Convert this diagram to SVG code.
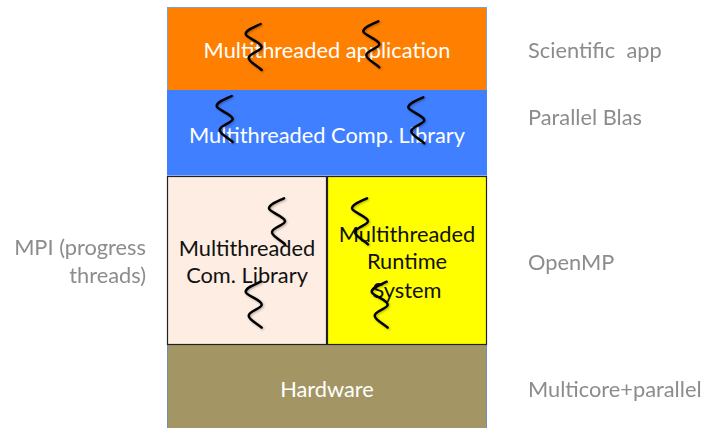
<svg xmlns="http://www.w3.org/2000/svg" width="703" height="428" viewBox="0 0 703 428">
<style>
text{font-family:"Lato","Open Sans","Liberation Sans",sans-serif;font-size:21.800px;white-space:pre}
.c{text-anchor:middle}
.w{fill:#fff}
.k{fill:#111}
.g{fill:#8c8c8c}
.th{fill:none;stroke:#000;stroke-width:2.500;stroke-linecap:round;stroke-linejoin:round}
</style>
<defs>
<filter id="sh" x="-40%" y="-20%" width="180%" height="140%"><feDropShadow dx="1" dy="1" stdDeviation="1" flood-color="#000" flood-opacity=".3"/></filter>
<path id="sq" class="th" d="M0,0C-6,3 -15,6 -15,10C-15,14 1,18 1,23C1,27 -12,29 -12,34C-12,38 -3,42 1,46"/>
</defs>
<g id="app"><rect x="167.500" y="7.500" width="319" height="83" fill="#ff7f00" stroke="#7ba0cf" stroke-width="1"/><text class="c w" x="327" y="58">Multithreaded application</text></g>
<g id="blas"><rect x="167" y="90" width="320" height="85.500" fill="#407fff"/><text class="c w" x="327" y="142.500">Multithreaded Comp. Library</text></g>
<g id="hardware"><rect x="167.500" y="344.500" width="319" height="90" fill="#a39664" stroke="#6f8fb5" stroke-width="1"/><text class="c w" x="327" y="397">Hardware</text></g>
<g id="comlib"><rect x="167.500" y="176.500" width="159" height="168" fill="#fdede2" stroke="#222" stroke-width="1.200"/><text class="c k" x="247" y="255.500">Multithreaded</text><text class="c k" x="247" y="283">Com. Library</text></g>
<g id="runtime"><rect x="327.500" y="176.500" width="159" height="168" fill="#ffff00" stroke="#222" stroke-width="1.200"/><text class="c k" x="407" y="241.500">Multithreaded</text><text class="c k" x="407" y="269">Runtime</text><text class="c k" x="407" y="297.500">System</text></g>
<g id="threads" filter="url(#sh)">
<use href="#sq" x="260.700" y="24"/>
<use href="#sq" x="378.300" y="21.300"/>
<use href="#sq" x="231.700" y="96"/>
<use href="#sq" x="423.300" y="97.300"/>
<use href="#sq" x="284" y="198.300"/>
<use href="#sq" x="367" y="198.300"/>
<use href="#sq" x="260.700" y="281.700"/>
<use href="#sq" x="386.700" y="281.700"/>
</g>
<g id="labels">
<text class="g" x="528" y="58">Scientific  app</text>
<text class="g" x="528" y="124.500">Parallel Blas</text>
<text class="g" x="528" y="269.500">OpenMP</text>
<text class="g" x="528" y="396.500">Multicore+parallel</text>
<text class="g" x="146" y="255" text-anchor="end">MPI (progress</text>
<text class="g" x="146" y="282.500" text-anchor="end">threads)</text>
</g>
</svg>
